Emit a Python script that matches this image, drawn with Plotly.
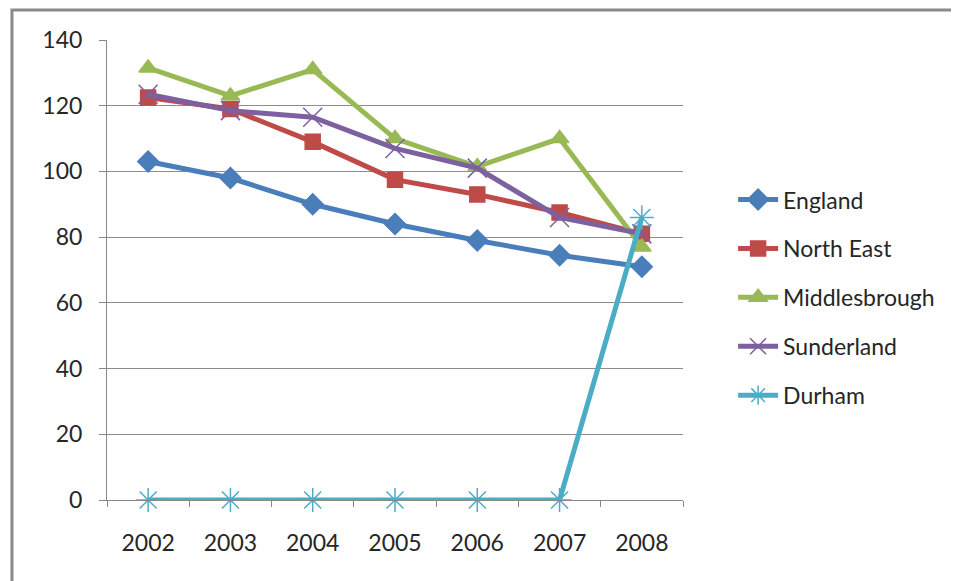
import plotly.graph_objects as go

years = ["2002", "2003", "2004", "2005", "2006", "2007", "2008"]

england = [103, 98, 90, 84, 79, 74.5, 71]
north_east = [122.5, 119, 109, 97.5, 93, 87.5, 81]
middlesbrough = [131.5, 123, 131, 110, 101.5, 110, 77]
sunderland = [123.5, 118.5, 116.5, 107, 101, 86, 81]
durham = [0, 0, 0, 0, 0, 0, 86]

y_ticks = [0, 20, 40, 60, 80, 100, 120, 140]

# name -> (values, colour, marker symbol, marker size)
series = {
    "England": (england, "#4A7EBB", "diamond", 16),
    "North East": (north_east, "#BE4B48", "square", 15),
    "Middlesbrough": (middlesbrough, "#98B954", "triangle-up", 16),
    "Sunderland": (sunderland, "#7D60A0", "x-thin-open", 19),
    "Durham": (durham, "#4BACC6", "asterisk-open", 20),
}

fig = go.Figure()

for i, (name, (vals, color, symbol, size)) in enumerate(series.items()):
    fig.add_trace(go.Scatter(
        x=years,
        y=vals,
        mode="lines+markers",
        name=name,
        legendgroup=str(i),
        cliponaxis=False,
        line=dict(color=color, width=5),
        marker=dict(symbol=symbol, size=size, color=color,
                    line=dict(color=color, width=1.5)),
    ))

font = dict(family="Lato, 'Open Sans', sans-serif", size=23, color="#262626")

fig.update_xaxes(
    type="category",
    range=[-0.5, 6.5],
    tickson="boundaries",
    ticks="outside",
    ticklen=6,
    tickcolor="#888888",
    ticklabelstandoff=22,
    showgrid=False,
    showline=True,
    linecolor="#888888",
    linewidth=1,
    tickfont=font,
)
fig.update_yaxes(
    range=[0, 140],
    tickvals=y_ticks,
    ticks="outside",
    ticklen=7,
    tickcolor="#888888",
    ticklabelstandoff=12,
    showgrid=True,
    gridcolor="#8C8C8C",
    gridwidth=1,
    showline=True,
    linecolor="#888888",
    linewidth=1,
    zeroline=False,
    tickfont=font,
)

# page has an 8px body margin, so margins are shifted to compensate
fig.update_layout(
    width=959,
    height=581,
    margin=dict(l=99, r=284, t=32, b=89, autoexpand=False),
    plot_bgcolor="white",
    paper_bgcolor="white",
    font=font,
    legend=dict(
        x=1.087, y=0.44, xanchor="left", yanchor="middle",
        tracegroupgap=16,
        font=font,
        itemwidth=40,
    ),
    shapes=[dict(
        type="rect", xref="paper", yref="paper",
        x0=-0.165, x1=1.7, y0=-0.3, y1=1.065,
        line=dict(color="#8A8A8A", width=3),
    )],
)

fig.write_html("out.html")
